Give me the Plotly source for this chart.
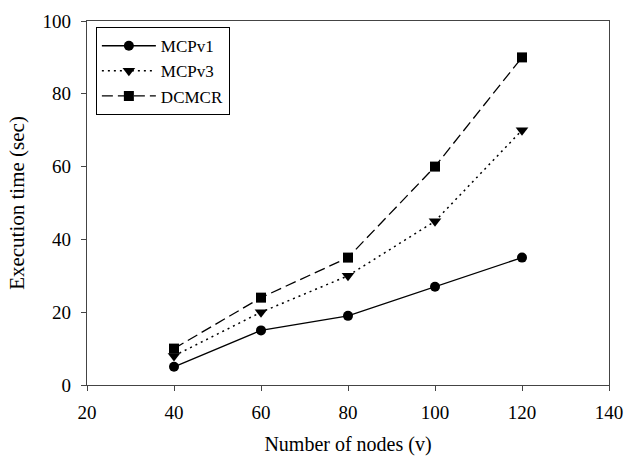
import plotly.graph_objects as go

# Number of nodes (v)
nodes = [40, 60, 80, 100, 120]

# Execution time (sec) per algorithm
mcpv1 = [5, 15, 19, 27, 35]
mcpv3 = [8, 20, 30, 45, 70]
dcmcr = [10, 24, 35, 60, 90]

x_ticks = [20, 40, 60, 80, 100, 120, 140]
y_ticks = [0, 20, 40, 60, 80, 100]

FONT = "Liberation Serif, Times New Roman, serif"

fig = go.Figure()
fig.add_trace(go.Scatter(
    x=nodes, y=mcpv1, name="MCPv1", mode="lines+markers",
    line=dict(color="black", width=1.3, dash="solid"),
    marker=dict(symbol="circle", size=10, color="black"),
))
fig.add_trace(go.Scatter(
    x=nodes, y=mcpv3, name="MCPv3", mode="lines+markers",
    line=dict(color="black", width=1.5, dash="2px,4px"),
    marker=dict(symbol="triangle-down", size=11, color="black"),
))
fig.add_trace(go.Scatter(
    x=nodes, y=dcmcr, name="DCMCR", mode="lines+markers",
    line=dict(color="black", width=1.3, dash="11px,5px"),
    marker=dict(symbol="square", size=10, color="black"),
))

axis_common = dict(
    showgrid=False, zeroline=False, showline=True, mirror=True,
    linecolor="#444", linewidth=1.2, ticks="outside", ticklen=5,
    tickcolor="#444", tickwidth=1.2, automargin=False,
    tickfont=dict(family=FONT, size=19, color="black"),
)

fig.update_xaxes(
    range=[20, 140], tickvals=x_ticks, ticklabelstandoff=5,
    title=dict(text="Number of nodes (v)", font=dict(family=FONT, size=20, color="black"), standoff=19),
    **axis_common,
)
fig.update_yaxes(
    range=[0, 100], tickvals=y_ticks, ticklabelstandoff=6,
    title=dict(text="Execution time (sec)", font=dict(family=FONT, size=21, color="black"), standoff=12),
    **axis_common,
)

fig.update_layout(
    width=627, height=456,
    margin=dict(l=87, r=18, t=21, b=71),
    plot_bgcolor="white", paper_bgcolor="white",
    font=dict(family=FONT, color="black"),
    showlegend=True,
    legend=dict(
        x=0.017, y=0.983, xanchor="left", yanchor="top",
        bgcolor="white", bordercolor="black", borderwidth=1,
        font=dict(family=FONT, size=17, color="black"),
        tracegroupgap=0, itemwidth=54,
    ),
)

fig.write_html("out.html")
